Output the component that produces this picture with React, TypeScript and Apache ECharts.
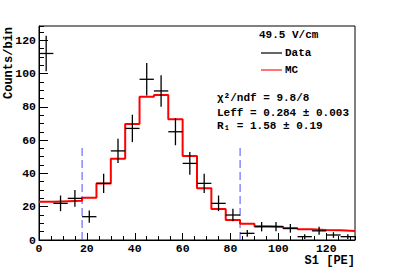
import React, { useEffect, useRef } from "react";
import * as echarts from "echarts";

const binWidth = 6;
const binCenters = [3, 9, 15, 21, 27, 33, 39, 45, 51, 57, 63, 69, 75, 81, 87, 93, 99, 105, 111, 117, 123, 129];
const dataCounts = [112, 22, 25, 14, 34, 53.5, 67, 96.5, 89.5, 65, 46, 34, 22, 15, 4, 8, 8, 7, 2, 5.5, 3, 2];
const dataErrors = [10.6, 4.7, 5, 3.7, 5.8, 7.3, 8.2, 9.8, 9.5, 8.1, 6.8, 5.8, 4.7, 3.8, 2, 2.8, 2.8, 2.6, 1.4, 2.4, 1.7, 1.4];
const mcValues = [23, 23.3, 23.6, 25.4, 34, 48.8, 69.7, 86, 87, 72.5, 50.5, 31, 18.6, 12, 9.8, 8.3, 8.0, 7.0, 6.4, 6.0, 5.8, 5.4];
const cutLines = [18, 84];
const cutTop = 56;
const legendTitle = "49.5 V/cm";
const legendItems = ["Data", "MC"];
const statLines = ["χ²/ndf = 9.8/8", "Leff = 0.284 ± 0.003", "R₁ = 1.58 ± 0.19"];
const xTitle = "S1 [PE]";
const yTitle = "Counts/bin";

const FONT = "'Liberation Mono', 'DejaVu Sans Mono', monospace";

export default function App() {
  const ref = useRef<HTMLDivElement>(null);
  useEffect(() => {
    if (!ref.current) return;
    const chart = echarts.init(ref.current, undefined, { renderer: "svg" });

    const stepData: number[][] = [];
    binCenters.forEach((c, i) => {
      stepData.push([c - binWidth / 2, mcValues[i]]);
      stepData.push([c + binWidth / 2, mcValues[i]]);
    });
    const pts = binCenters.map((c, i) => [c, dataCounts[i], dataErrors[i]]);

    const label = { fontSize: 11.5, fontWeight: "bold", fontFamily: FONT, color: "#000", lineHeight: 11 };
    const txt = (x: number, y: number, text: string, extra: any = {}) => ({
      type: "text",
      x,
      y,
      style: { text, fontSize: 11, fontWeight: "bold", fontFamily: FONT, fill: "#000", verticalAlign: "middle", ...extra },
    });

    chart.setOption({
      animation: false,
      grid: { left: 39, top: 26, right: 40, bottom: 27, show: true, borderColor: "#000", borderWidth: 1 },
      xAxis: [
        {
          type: "value", min: 0, max: 132, interval: 20, position: "bottom",
          axisLine: { show: true, onZero: false, lineStyle: { color: "#000", width: 1 } },
          axisTick: { inside: true, length: 7, lineStyle: { color: "#000" } },
          axisLabel: { ...label, showMaxLabel: false, margin: 3 },
          splitLine: { show: false },
        },
        {
          type: "value", min: 0, max: 132, interval: 5, position: "bottom",
          axisLine: { show: false, onZero: false },
          axisTick: { inside: true, length: 4, lineStyle: { color: "#000" } },
          axisLabel: { show: false },
          splitLine: { show: false },
        },
      ],
      yAxis: [
        {
          type: "value", min: 0, max: 128.5, interval: 20, position: "left",
          axisLine: { show: true, onZero: false, lineStyle: { color: "#000", width: 1 } },
          axisTick: { inside: true, length: 9, lineStyle: { color: "#000" } },
          axisLabel: { ...label, showMaxLabel: false, margin: 3 },
          splitLine: { show: false },
        },
        {
          type: "value", min: 0, max: 128.5, interval: 5, position: "left",
          axisLine: { show: false, onZero: false },
          axisTick: { inside: true, length: 5, lineStyle: { color: "#000" } },
          axisLabel: { show: false },
          splitLine: { show: false },
        },
      ],
      series: [
        {
          type: "line", data: stepData, showSymbol: false, symbol: "none",
          lineStyle: { color: "#ff0000", width: 2 }, z: 2,
        },
        ...cutLines.map((cx) => ({
          type: "line", data: [[cx, 0], [cx, cutTop]], symbol: "none",
          lineStyle: { color: "#4a4aff", width: 1, type: [8, 4] }, z: 1,
        })),
        {
          type: "custom", data: pts, clip: false, z: 3,
          renderItem: (_p: any, api: any) => {
            const x = api.value(0), y = api.value(1), e = api.value(2);
            const c = api.coord([x, y]);
            const l = api.coord([x - binWidth / 2, y]);
            const r = api.coord([x + binWidth / 2, y]);
            const t = api.coord([x, y + e]);
            const b = api.coord([x, Math.max(0, y - e)]);
            const st = { stroke: "#000", lineWidth: 1.3 };
            return {
              type: "group",
              children: [
                { type: "line", shape: { x1: l[0], y1: c[1], x2: r[0], y2: c[1] }, style: st },
                { type: "line", shape: { x1: c[0], y1: t[1], x2: c[0], y2: b[1] }, style: st },
              ],
            };
          },
        },
      ],
      graphic: [
        txt(259, 35, legendTitle),
        { type: "line", shape: { x1: 261, y1: 53, x2: 282, y2: 53 }, style: { stroke: "#333", lineWidth: 1.5 } },
        txt(285, 53, legendItems[0]),
        { type: "line", shape: { x1: 261, y1: 70, x2: 282, y2: 70 }, style: { stroke: "#ff4444", lineWidth: 1.5 } },
        txt(285, 70, legendItems[1]),
        txt(217, 98, statLines[0]),
        txt(217, 113, statLines[1]),
        txt(217, 126, statLines[2]),
        {
          type: "text", x: 355, y: 260.5,
          style: { text: xTitle, fontSize: 12, lineHeight: 11, fontWeight: "bold", fontFamily: FONT, fill: "#000", align: "right", verticalAlign: "middle" },
        },
        {
          type: "text", x: 9, y: 27, rotation: Math.PI / 2,
          style: { text: yTitle, fontSize: 12, fontWeight: "bold", fontFamily: FONT, fill: "#000", align: "right", verticalAlign: "middle" },
        },
      ],
    });
    return () => chart.dispose();
  }, []);
  return <div ref={ref} style={{ position: "fixed", left: 0, top: 0, width: 395, height: 267, background: "#fff" }} />;
}
